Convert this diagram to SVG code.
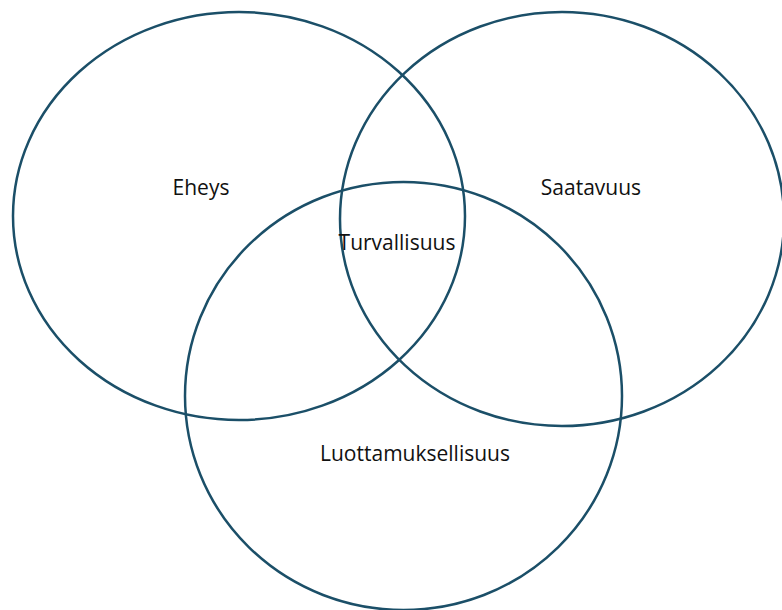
<svg xmlns="http://www.w3.org/2000/svg" width="782" height="610" viewBox="0 0 782 610">
<style>
.c{fill:none;stroke:#1b4f68;stroke-width:2.5}
.t{font-family:"Open Sans","Noto Sans",sans-serif;font-size:21px;fill:#111;text-anchor:middle}
</style>
<rect width="782" height="610" fill="#fff"/>
<g id="eheys"><ellipse class="c" cx="239" cy="216" rx="226" ry="204"/><text class="t" x="201" y="195">Eheys</text></g>
<g id="saatavuus"><ellipse class="c" cx="562" cy="219" rx="222" ry="207"/><text class="t" x="591" y="195">Saatavuus</text></g>
<g id="luottamuksellisuus"><ellipse class="c" cx="403.5" cy="396" rx="218.5" ry="214"/><text class="t" x="415" y="461">Luottamuksellisuus</text></g>
<g id="turvallisuus"><text class="t" x="397" y="250">Turvallisuus</text></g>
<g id="connectors"></g>
</svg>
